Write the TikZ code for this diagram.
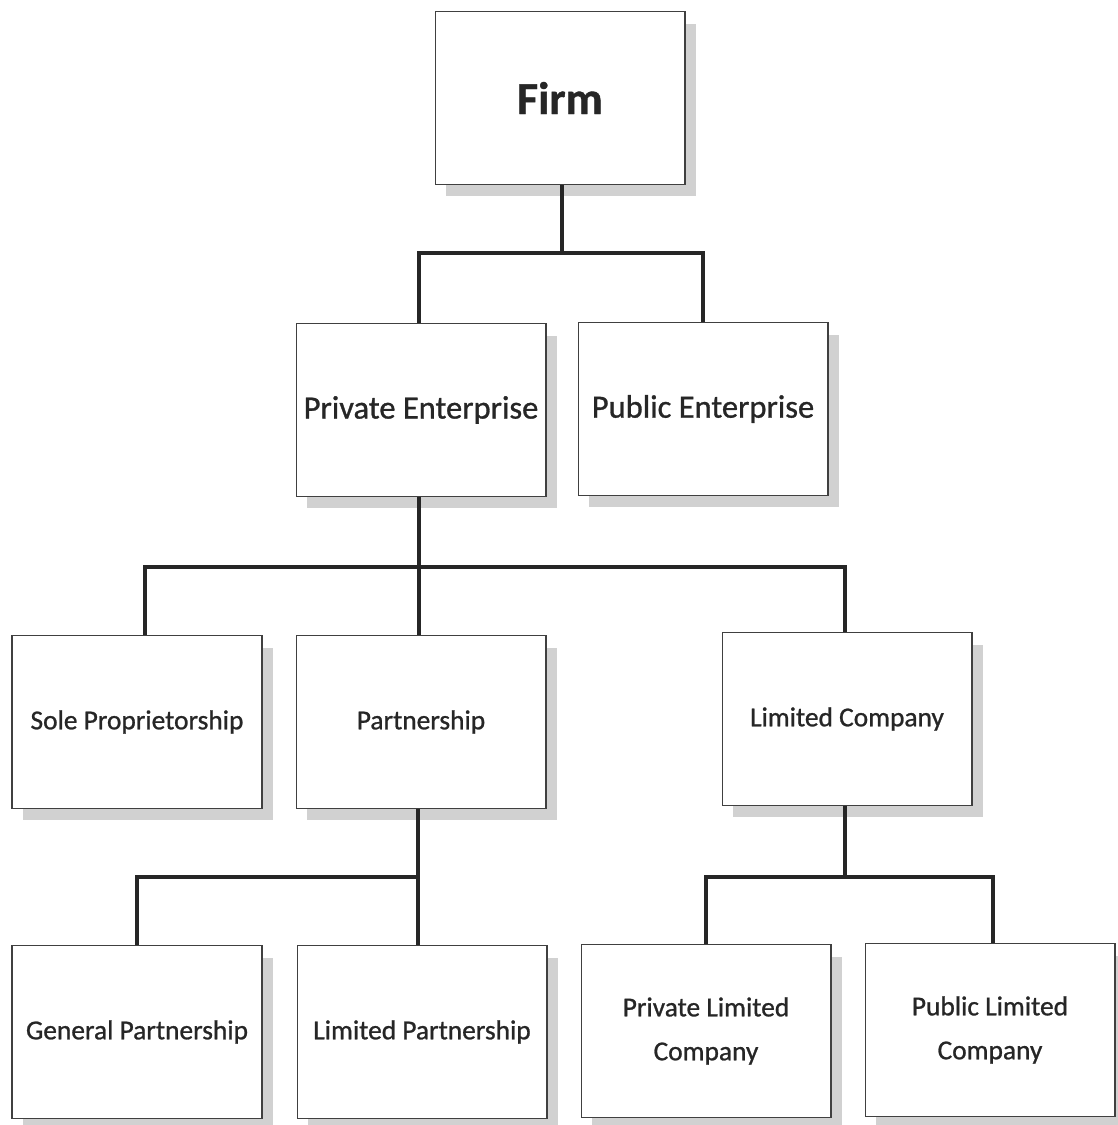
\documentclass[tikz,border=0pt]{standalone}
\usepackage{fontspec}
\setmainfont{Carlito}[FakeBold=0.8]
\newfontfamily\medfont{Carlito}[AutoFakeBold=0.9]
\usetikzlibrary{shadows}

\begin{document}
\begin{tikzpicture}[
    x=0.02cm, y=-0.02cm,
    unit/.style={rectangle, draw=black!75, line width=0.6pt, fill=white,
        minimum width=5cm, minimum height=3.46cm, inner sep=2pt,
        align=center, text=black!85,
        font=\medfont\fontsize{15.6}{25}\selectfont\bfseries,
        drop shadow={shadow xshift=0.22cm, shadow yshift=-0.24cm,
            fill=black!18, opacity=1}},
    big/.style={unit, font=\medfont\fontsize{18.5}{22}\selectfont\bfseries},
    top/.style={unit, font=\fontsize{26}{28}\selectfont\bfseries},
    edge/.style={line width=1.8pt, black!85, -}
]
    \useasboundingbox (0,0) rectangle (1117,1125);
    % levels
    \node[top] (firm) at (560,98) {Firm};
    \node[big] (prive) at (421,410) {Private Enterprise};
    \node[big] (pube) at (703,409) {Public Enterprise};
    \node[unit] (sole) at (137,722) {Sole Proprietorship};
    \node[unit] (partner) at (421,722) {Partnership};
    \node[unit] (ltdco) at (847,719) {Limited Company};
    \node[unit] (genp) at (137,1032) {General Partnership};
    \node[unit] (ltdp) at (422,1032) {Limited Partnership};
    \node[unit] (pvtltd) at (706,1031) {Private Limited\\Company};
    \node[unit] (publtd) at (990,1030) {Public Limited\\Company};
    % junctions
    \coordinate (j1) at (562,253);
    \coordinate (j2) at (419,567);
    \coordinate (j3) at (418,877);
    \coordinate (j4) at (845,877);
    \draw[edge] (firm.south -| j1) -- (j1);
    \draw[edge] (j1) -| (prive.north -| j2);
    \draw[edge] (j1) -| (pube.north);
    \draw[edge] (prive.south -| j2) -- (j2);
    \draw[edge] (j2) -| ([xshift=0.16cm]sole.north);
    \draw[edge] (j2) -- (partner.north -| j2);
    \draw[edge] (j2) -| (ltdco.north -| j4);
    \draw[edge] (partner.south -| j3) -- (j3);
    \draw[edge] (j3) -| (genp.north);
    \draw[edge] (j3) -- (ltdp.north -| j3);
    \draw[edge] (ltdco.south -| j4) -- (j4);
    \draw[edge] (j4) -| (pvtltd.north);
    \draw[edge] (j4) -| ([xshift=0.06cm]publtd.north);
\end{tikzpicture}
\end{document}
